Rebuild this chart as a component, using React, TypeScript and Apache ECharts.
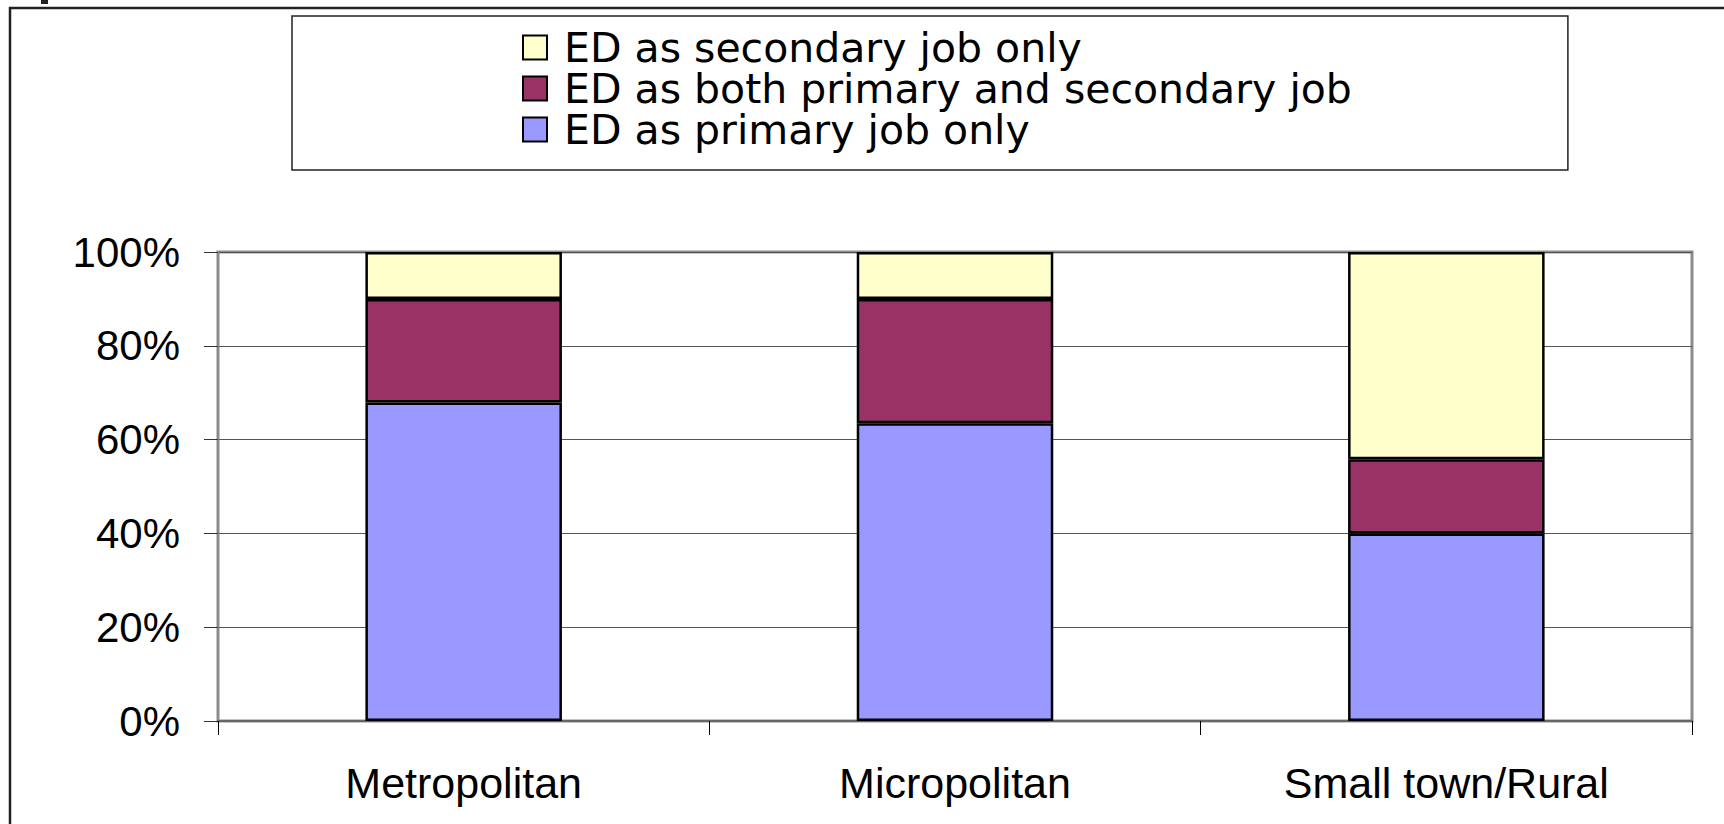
import React, { useEffect, useRef } from 'react';
import * as echarts from 'echarts';

const categories = ['Metropolitan', 'Micropolitan', 'Small town/Rural'];
const primaryOnly = [67.9, 63.5, 40.0];
const bothJobs = [22.1, 26.5, 15.8];
const secondaryOnly = [10.0, 10.0, 44.2];
const seriesNames = [
  'ED as primary job only',
  'ED as both primary and secondary job',
  'ED as secondary job only',
];
const seriesColors = ['#9999FF', '#993366', '#FFFFCC'];
const legendOrder = [seriesNames[2], seriesNames[1], seriesNames[0]];

export default function App() {
  const ref = useRef<HTMLDivElement>(null);
  useEffect(() => {
    if (!ref.current) return;
    const chart = echarts.init(ref.current, undefined, { renderer: 'svg' });
    const values = [primaryOnly, bothJobs, secondaryOnly];
    chart.setOption({
      animation: false,
      backgroundColor: '#fff',
      textStyle: { fontFamily: 'Liberation Sans' },
      graphic: [
        { type: 'rect', shape: { x: 10, y: 8, width: 1800, height: 900 }, style: { fill: 'none', stroke: '#222', lineWidth: 2.5 }, z: 0 },
        { type: 'rect', shape: { x: 41, y: 0, width: 7, height: 4 }, style: { fill: '#222' } },
      ],
      legend: {
        orient: 'vertical',
        left: 292,
        top: 16,
        padding: [11, 216, 20, 230],
        itemWidth: 24,
        itemHeight: 24,
        itemGap: 0,
        borderColor: '#222',
        borderWidth: 1.5,
        icon: 'rect',
        data: legendOrder,
        textStyle: { fontSize: 41, lineHeight: 40, fontFamily: 'DejaVu Sans', color: '#000', padding: [0, 0, 0, 12] },
      },
      grid: {
        left: 218,
        right: 32,
        top: 252,
        bottom: 103,
        show: true,
        borderColor: '#8c8c8c',
        borderWidth: 3,
        containLabel: false,
      },
      xAxis: {
        type: 'category',
        data: categories,
        axisLine: { lineStyle: { color: '#666', width: 2 } },
        axisTick: { show: true, length: 14, lineStyle: { color: '#000', width: 1 } },
        axisLabel: { fontSize: 43, color: '#000', margin: 40, fontFamily: 'Liberation Sans' },
      },
      yAxis: {
        type: 'value',
        min: 0,
        max: 100,
        interval: 20,
        axisLine: { show: true, lineStyle: { color: '#8c8c8c', width: 2 } },
        axisTick: { show: true, length: 14, lineStyle: { color: '#333', width: 1 } },
        axisLabel: { formatter: '{value}%', fontSize: 42, color: '#000', margin: 38, fontFamily: 'Liberation Sans' },
        splitLine: { show: true, lineStyle: { color: '#555', width: 1 } },
      },
      series: seriesNames.map((name, i) => ({
        name,
        type: 'bar',
        stack: 'total',
        barWidth: '40%',
        data: values[i],
        itemStyle: { color: seriesColors[i], borderColor: '#000', borderWidth: 2.5 },
      })),
    });
    return () => chart.dispose();
  }, []);
  return <div ref={ref} style={{ position: 'fixed', left: 0, top: 0, width: 1724, height: 824 }} />;
}
